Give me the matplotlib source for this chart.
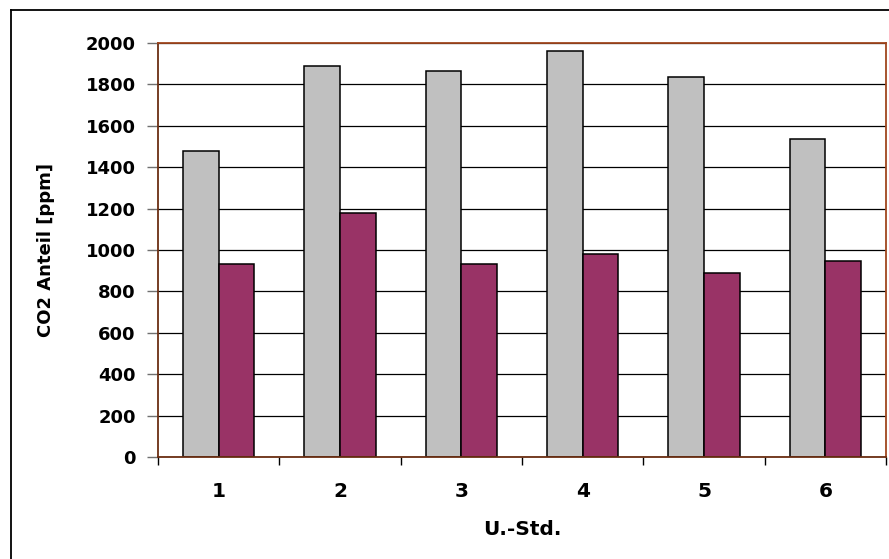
import matplotlib
matplotlib.use('Agg')
import matplotlib.pyplot as plt
from matplotlib.lines import Line2D
import numpy as np

# values
stunden = ['1', '2', '3', '4', '5', '6']
co2_grau = [1478, 1890, 1863, 1960, 1837, 1537]
co2_lila = [934, 1181, 934, 980, 890, 947]
y_ticks = [0, 200, 400, 600, 800, 1000, 1200, 1400, 1600, 1800, 2000]

plt.rcParams['font.family'] = ['DejaVu Sans']
plt.rcParams['font.weight'] = 'bold'


def main():
    fig = plt.figure(figsize=(8.89, 5.59), dpi=100)
    fig.patch.set_facecolor('white')
    ax = fig.add_axes([158 / 889, 1 - 457 / 559, 728 / 889, 414 / 559])

    x = np.arange(1, len(stunden) + 1)
    w = 0.293
    ax.bar(x - w, co2_grau, width=w, align='edge', color='#C0C0C0',
           edgecolor='black', linewidth=1.1, zorder=3)
    ax.bar(x, co2_lila, width=w, align='edge', color='#993366',
           edgecolor='black', linewidth=1.1, zorder=3)

    ax.set_xlim(0.5, len(stunden) + 0.5)
    ax.set_ylim(0, 2000)
    ax.set_yticks(y_ticks)
    ax.set_yticklabels([str(v) for v in y_ticks], fontsize=13, fontweight='bold')
    ax.set_xticks(x)
    ax.set_xticklabels(stunden, fontsize=14.5, fontweight='bold')
    ax.set_xticks(np.arange(0.5, len(stunden) + 1), minor=True)

    ax.tick_params(axis='y', length=8, width=1.0, color='#707070', pad=8)
    ax.tick_params(axis='x', which='major', length=0, pad=18)
    ax.tick_params(axis='x', which='minor', length=6, width=1.0, color='black')

    ax.yaxis.grid(True, color='black', linewidth=0.9, zorder=1)
    ax.set_axisbelow(True)

    for side in ['left', 'bottom']:
        ax.spines[side].set_color('#6B2E12')
        ax.spines[side].set_linewidth(1.3)
    for side in ['top', 'right']:
        ax.spines[side].set_color('#A0461E')
        ax.spines[side].set_linewidth(1.3)
    for s in ax.spines.values():
        s.set_zorder(4)

    ax.set_ylabel('CO2 Anteil [ppm]', fontsize=13, fontweight='bold', va='center')
    ax.yaxis.set_label_coords(-0.154, 0.5)
    ax.set_xlabel('U.-Std.', fontsize=14.5, fontweight='bold', va='center')
    ax.xaxis.set_label_coords(0.5, -0.174)

    # outer frame of the chart object (only left and top edges are visible)
    fig.add_artist(Line2D([11 / 889, 11 / 889], [0, 1 - 10 / 559],
                          transform=fig.transFigure, color='black', linewidth=1.3))
    fig.add_artist(Line2D([11 / 889, 1], [1 - 10 / 559, 1 - 10 / 559],
                          transform=fig.transFigure, color='black', linewidth=1.3))

    fig.savefig('out.png', dpi=100)
    plt.close(fig)


if __name__ == '__main__':
    main()
